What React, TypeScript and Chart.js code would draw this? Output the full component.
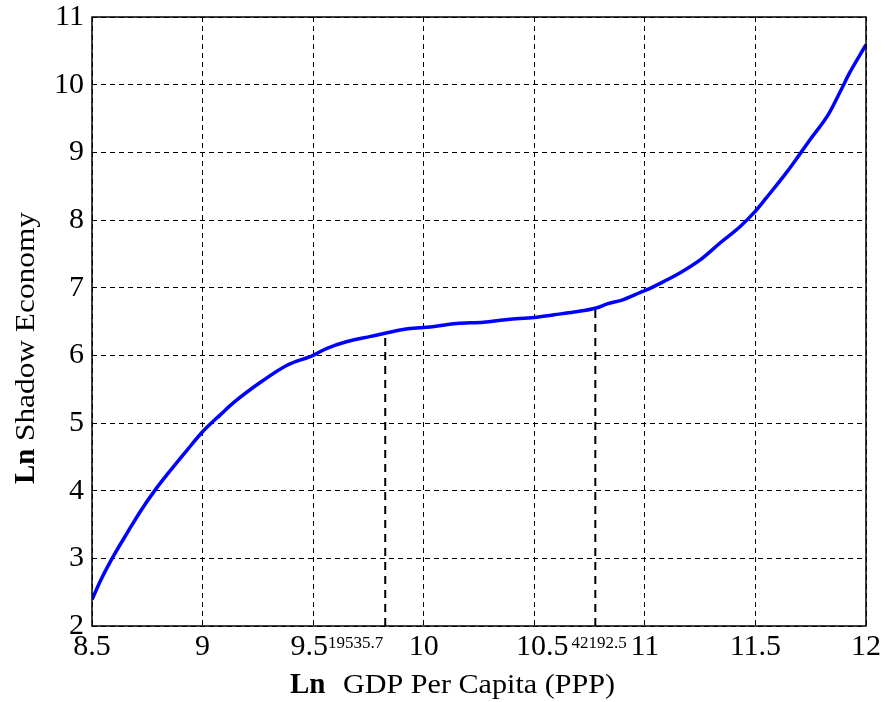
import React, { useEffect, useRef } from 'react';
import { Chart, registerables } from 'chart.js';

Chart.register(...registerables);

// ---- data ----
const lnGdp = [
  8.5, 8.54, 8.6, 8.66, 8.72, 8.79, 8.84, 8.93, 9.0, 9.04, 9.08, 9.14, 9.27, 9.38, 9.5,
  9.56, 9.65, 9.76, 9.83, 9.92, 10.0, 10.15, 10.27, 10.38, 10.5, 10.59, 10.68, 10.78,
  10.83, 10.9, 10.98, 11.01, 11.085, 11.16, 11.25, 11.34, 11.43, 11.5, 11.55, 11.64,
  11.7, 11.75, 11.83, 11.89, 11.925, 12.0,
];
const lnShadow = [
  2.39, 2.68, 3.05, 3.38, 3.7, 4.03, 4.24, 4.6, 4.87, 5.0, 5.12, 5.3, 5.62, 5.85, 6.0,
  6.1, 6.2, 6.28, 6.33, 6.39, 6.41, 6.47, 6.49, 6.53, 6.56, 6.6, 6.64, 6.7,
  6.76, 6.82, 6.93, 6.97, 7.09, 7.22, 7.41, 7.66, 7.9, 8.13, 8.33, 8.7,
  8.97, 9.2, 9.56, 9.94, 10.17, 10.59,
];
const thresholdLnGdp = [9.826, 10.776];
const thresholdLnShadow = [6.33, 6.7];
const xTicks = [8.5, 9, 9.5, 10, 10.5, 11, 11.5, 12];
const yTicks = [2, 3, 4, 5, 6, 7, 8, 9, 10, 11];
const superTickValues = [9.5, 10.5];
const superTickLabels = ['19535.7', '42192.5'];
const xTitleBold = 'Ln';
const xTitleRest = 'GDP Per Capita (PPP)';
const yTitleBold = 'Ln';
const yTitleRest = 'Shadow Economy';

const SERIF = '"Liberation Serif", Tinos, "Times New Roman", Times, serif';

const overlayPlugin = {
  id: 'overlay',
  afterDraw(chart: any) {
    const ctx = chart.ctx as CanvasRenderingContext2D;
    const { left, right, top, bottom } = chart.chartArea;
    const xs = chart.scales.x;
    ctx.save();
    // frame
    ctx.strokeStyle = '#000';
    ctx.lineWidth = 1.5;
    ctx.setLineDash([]);
    ctx.strokeRect(left, top, right - left, bottom - top);

    // x tick labels (with superscripts)
    ctx.fillStyle = '#000';
    ctx.textBaseline = 'alphabetic';
    xTicks.forEach((v) => {
      const px = xs.getPixelForValue(v);
      const label = String(v);
      const si = superTickValues.indexOf(v);
      let shift = 0;
      if (si === 0) shift = -4;
      if (si === 1) shift = 8;
      ctx.font = `30px ${SERIF}`;
      ctx.textAlign = 'center';
      const cx = px + shift;
      ctx.fillText(label, cx, bottom + 29);
      if (si >= 0) {
        const w = ctx.measureText(label).width;
        ctx.font = `17px ${SERIF}`;
        ctx.textAlign = 'left';
        ctx.fillText(superTickLabels[si], cx + w / 2 + (si === 1 ? 3 : 0), bottom + 22);
      }
    });

    // x title
    ctx.textAlign = 'left';
    ctx.font = `bold 29px ${SERIF}`;
    ctx.fillText(xTitleBold, 290, 693);
    ctx.font = `27px ${SERIF}`;
    {
      const w = ctx.measureText(xTitleRest).width;
      const sx = 272 / w;
      ctx.save();
      ctx.translate(343, 693);
      ctx.scale(sx, 1);
      ctx.fillText(xTitleRest, 0, 0);
      ctx.restore();
    }

    // y title (rotated)
    ctx.save();
    ctx.translate(34, 484);
    ctx.rotate(-Math.PI / 2);
    ctx.font = `bold 29px ${SERIF}`;
    ctx.fillText(yTitleBold, 0, 0);
    ctx.font = `27px ${SERIF}`;
    {
      const w = ctx.measureText(yTitleRest).width;
      const sx = 229 / w;
      ctx.translate(43, 0);
      ctx.scale(sx, 1);
      ctx.fillText(yTitleRest, 0, 0);
    }
    ctx.restore();
    ctx.restore();
  },
};

export default function App() {
  const ref = useRef<HTMLCanvasElement | null>(null);
  useEffect(() => {
    if (!ref.current) return;
    const curve = lnGdp.map((x, i) => ({ x, y: lnShadow[i] }));
    const thresholdSets = thresholdLnGdp.map((x, i) => ({
      data: [
        { x, y: yTicks[0] },
        { x, y: thresholdLnShadow[i] },
      ],
      borderColor: '#000',
      borderWidth: 2,
      borderDash: [8, 6],
      pointRadius: 0,
      fill: false,
    }));
    const chart = new Chart(ref.current, {
      type: 'line',
      data: {
        datasets: [
          ...thresholdSets,
          {
            data: curve,
            borderColor: '#0000ff',
            borderWidth: 3.5,
            pointRadius: 0,
            cubicInterpolationMode: 'monotone',
            fill: false,
          },
        ] as any,
      },
      plugins: [overlayPlugin],
      options: {
        animation: false,
        responsive: false,
        devicePixelRatio: 1,
        layout: { padding: { top: 17, right: 19, left: 0, bottom: 0 } },
        plugins: { legend: { display: false }, tooltip: { enabled: false } },
        scales: {
          x: {
            type: 'linear',
            min: xTicks[0],
            max: xTicks[xTicks.length - 1],
            afterBuildTicks: (s: any) => {
              s.ticks = xTicks.map((v) => ({ value: v }));
            },
            afterFit: (s: any) => {
              s.height = 76;
            },
            ticks: { display: false },
            grid: { color: '#000', lineWidth: 1, drawTicks: false, borderDash: [5, 4] } as any,
            border: { display: false, dash: [5, 4] },
          },
          y: {
            type: 'linear',
            min: yTicks[0],
            max: yTicks[yTicks.length - 1],
            afterBuildTicks: (s: any) => {
              s.ticks = yTicks.map((v) => ({ value: v }));
            },
            afterFit: (s: any) => {
              s.width = 92;
            },
            ticks: {
              color: '#000',
              padding: 8,
              font: { family: SERIF, size: 30, lineHeight: 0.2 },
              callback: (v: any) => String(v),
            },
            grid: { color: '#000', lineWidth: 1, drawTicks: false, borderDash: [5, 4] } as any,
            border: { display: false, dash: [5, 4] },
          },
        },
      } as any,
    });
    const fonts: any = (document as any).fonts;
    if (fonts && fonts.load) {
      Promise.all([
        fonts.load('30px "Liberation Serif"'),
        fonts.load('bold 30px "Liberation Serif"'),
      ])
        .catch(() => {})
        .then(() => {
          try {
            chart.update();
          } catch (e) {}
        });
    }
    return () => chart.destroy();
  }, []);
  return (
    <div style={{ position: 'absolute', left: 0, top: 0, width: 885, height: 702, background: '#fff' }}>
      <canvas ref={ref} width={885} height={702} />
    </div>
  );
}
